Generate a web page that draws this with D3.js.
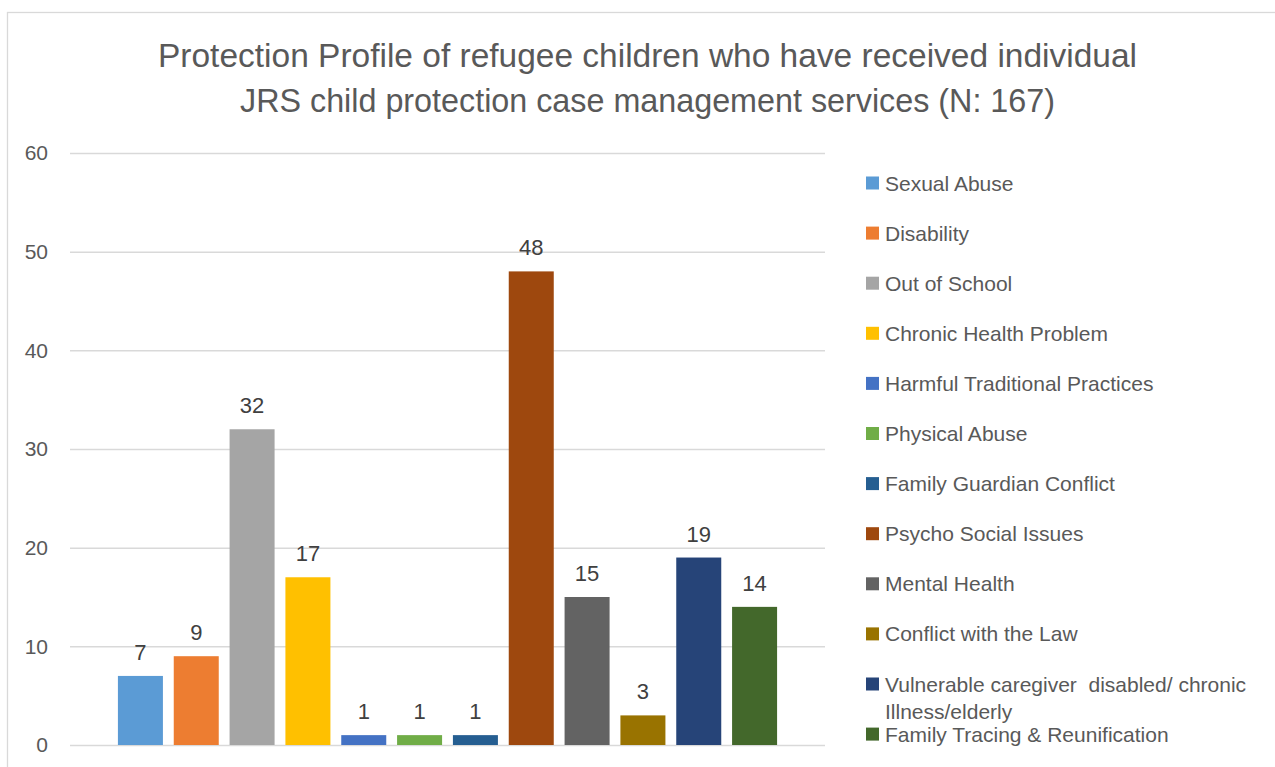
<!DOCTYPE html>
<html>
<head>
<meta charset="utf-8">
<script src="https://cdn.jsdelivr.net/npm/d3@7"></script>
<style>
  html, body { margin: 0; padding: 0; background: #ffffff; }
  svg { display: block; font-family: "Liberation Sans", Arial, sans-serif; }
</style>
</head>
<body>
<svg id="chart" width="1275" height="767"></svg>
<script>
// ---- data ----
const categories = [
  "Sexual Abuse",
  "Disability",
  "Out of School",
  "Chronic Health Problem",
  "Harmful Traditional Practices",
  "Physical Abuse",
  "Family Guardian Conflict",
  "Psycho Social Issues",
  "Mental Health",
  "Conflict with the Law",
  "Vulnerable caregiver  disabled/ chronic Illness/elderly",
  "Family Tracing & Reunification"
];
const values = [7, 9, 32, 17, 1, 1, 1, 48, 15, 3, 19, 14];
const colors = ["#5B9BD5", "#ED7D31", "#A5A5A5", "#FFC000", "#4472C4", "#70AD47",
                "#255E91", "#9E480E", "#636363", "#997300", "#264478", "#43682B"];
const legendLines = [
  ["Sexual Abuse"], ["Disability"], ["Out of School"], ["Chronic Health Problem"],
  ["Harmful Traditional Practices"], ["Physical Abuse"], ["Family Guardian Conflict"],
  ["Psycho Social Issues"], ["Mental Health"], ["Conflict with the Law"],
  ["Vulnerable caregiver  disabled/ chronic", "Illness/elderly"],
  ["Family Tracing & Reunification"]
];
const yTicks = [0, 10, 20, 30, 40, 50, 60];
const titleLines = [
  "Protection Profile of refugee children who have received individual",
  "JRS child protection case management services (N: 167)"
];

// ---- layout ----
const svg = d3.select("#chart");
const plot = { left: 70, right: 825, top: 153, bottom: 745 };
const titleWidths = [979, 815];

svg.append("rect")
  .attr("x", 7.5).attr("y", 12.5)
  .attr("width", 1400).attr("height", 900)
  .attr("fill", "#ffffff").attr("stroke", "#d9d9d9").attr("stroke-width", 1.3);

const y = d3.scaleLinear().domain([0, 60]).range([plot.bottom, plot.top]);
const x = d3.scaleBand().domain(categories)
  .range([112.5, 782.5]).paddingInner(0.194).paddingOuter(0.097);

// title
svg.append("g").selectAll("text").data(titleLines).join("text")
  .attr("x", 647.5).attr("y", (d, i) => 67 + i * 44.5)
  .attr("text-anchor", "middle")
  .attr("font-size", 33.4).attr("fill", "#595959")
  .attr("textLength", (d, i) => titleWidths[i])
  .attr("lengthAdjust", "spacingAndGlyphs")
  .text(d => d);

// gridlines + y axis labels
const yAxis = d3.axisLeft(y).tickValues(yTicks).tickSize(-(plot.right - plot.left)).tickPadding(22);
const gy = svg.append("g").attr("transform", `translate(${plot.left},0)`).call(yAxis);
gy.select(".domain").remove();
gy.selectAll(".tick line").attr("stroke", "#d9d9d9").attr("stroke-width", 1.5);
gy.selectAll(".tick text").attr("font-size", 21).attr("fill", "#595959")
  .attr("font-family", "'Liberation Sans', Arial, sans-serif");

// bars
svg.append("g").selectAll("rect").data(values).join("rect")
  .attr("x", (d, i) => x(categories[i]))
  .attr("width", x.bandwidth())
  .attr("y", d => y(d))
  .attr("height", d => y(0) - y(d))
  .attr("fill", (d, i) => colors[i]);

// data labels
svg.append("g").selectAll("text").data(values).join("text")
  .attr("x", (d, i) => x(categories[i]) + x.bandwidth() / 2)
  .attr("y", d => y(d) - 16)
  .attr("text-anchor", "middle")
  .attr("font-size", 22).attr("fill", "#404040")
  .text(d => d);

// legend
const lg = svg.append("g").selectAll("g").data(legendLines).join("g")
  .attr("transform", (d, i) => `translate(866,${183 + i * 50.1})`);
lg.append("rect").attr("x", 0).attr("y", -6.5).attr("width", 13).attr("height", 13)
  .attr("fill", (d, i) => colors[i]);
lg.each(function(lines) {
  const t = d3.select(this).append("text")
    .attr("x", 19).attr("y", 7.5)
    .style("white-space", "pre")
    .attr("font-size", 21).attr("fill", "#595959");
  lines.forEach((ln, j) => {
    t.append("tspan").attr("x", 19).attr("dy", j === 0 ? 0 : 27).text(ln);
  });
});
</script>
</body>
</html>
